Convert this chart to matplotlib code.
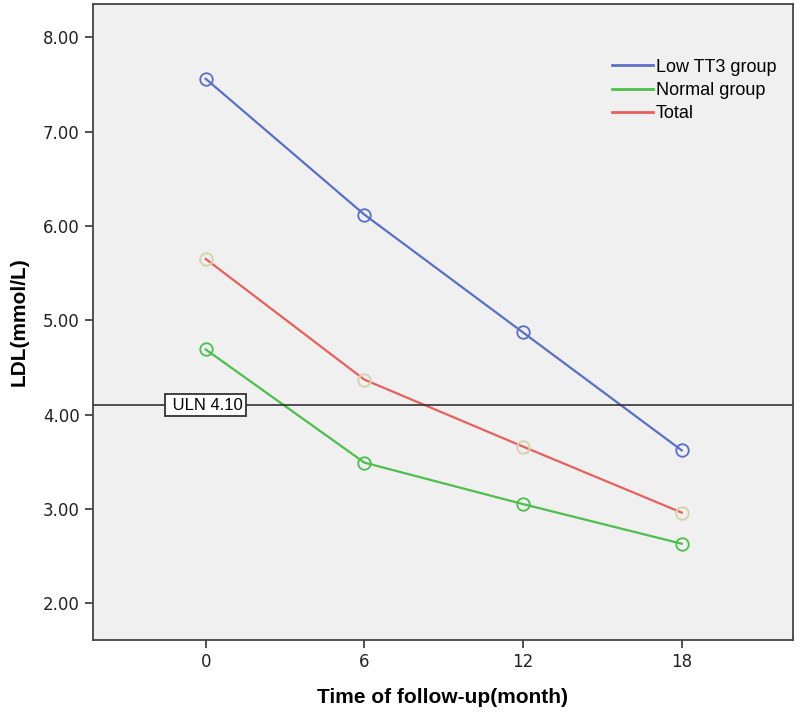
import numpy as np
import matplotlib
matplotlib.use('Agg')
from matplotlib import pyplot as plt

months = [0, 6, 12, 18]
low_tt3 = [7.56, 6.12, 4.87, 3.62]
normal = [4.69, 3.49, 3.05, 2.63]
total = [5.65, 4.37, 3.66, 2.96]
uln = 4.10
yticks = [2, 3, 4, 5, 6, 7, 8]

fig = plt.figure(figsize=(8, 7.19), dpi=100)
ax = fig.add_axes([0.116, 0.11, 0.875, 0.884])
ax.set_facecolor('#f0f0f0')

ax.plot(months, low_tt3, color='#5b6fc4', lw=1.6, marker='o', ms=9,
        mfc='none', mec='#5b6fc4', mew=1.3, label='Low TT3 group')
ax.plot(months, normal, color='#4cbf4c', lw=1.6, marker='o', ms=9,
        mfc='none', mec='#4cbf4c', mew=1.3, label='Normal group')
ax.plot(months, total, color='#e8605e', lw=1.6, marker='o', ms=9,
        mfc='none', mec='#d8d4b0', mew=1.5, label='Total')

ax.axhline(uln, color='#333333', lw=1.2)
ax.text(0, uln, ' ULN 4.10', ha='center', va='center', fontsize=12,
        family='Liberation Sans',
        bbox=dict(boxstyle='square,pad=0.2', fc='white', ec='#333333', lw=1.3))

ax.set_xlim(-4.27, 22.2)
ax.set_ylim(1.61, 8.35)
ax.set_xticks(months)
ax.set_yticks(yticks)
ax.set_yticklabels(['%.2f' % v for v in yticks])
ax.tick_params(direction='out', length=6, width=1.2, color='#333333',
               labelsize=12, labelcolor='#222222')
for s in ax.spines.values():
    s.set_color('#444444')
    s.set_linewidth(1.3)

ax.set_xlabel('Time of follow-up(month)', fontsize=15, fontweight='bold',
              family='Liberation Sans', labelpad=12)
ax.set_ylabel('LDL(mmol/L)', fontsize=15, fontweight='bold',
              family='Liberation Sans', labelpad=10)

leg = ax.legend(loc='upper right', bbox_to_anchor=(1.0, 0.94), frameon=False,
                prop={'family': 'Liberation Sans', 'size': 13},
                handlelength=2.3, handletextpad=0.15, labelspacing=0.35)
for h in leg.legend_handles:
    h.set_marker('')
    h.set_linewidth(2)

fig.savefig('out.png', dpi=100, facecolor='white')
